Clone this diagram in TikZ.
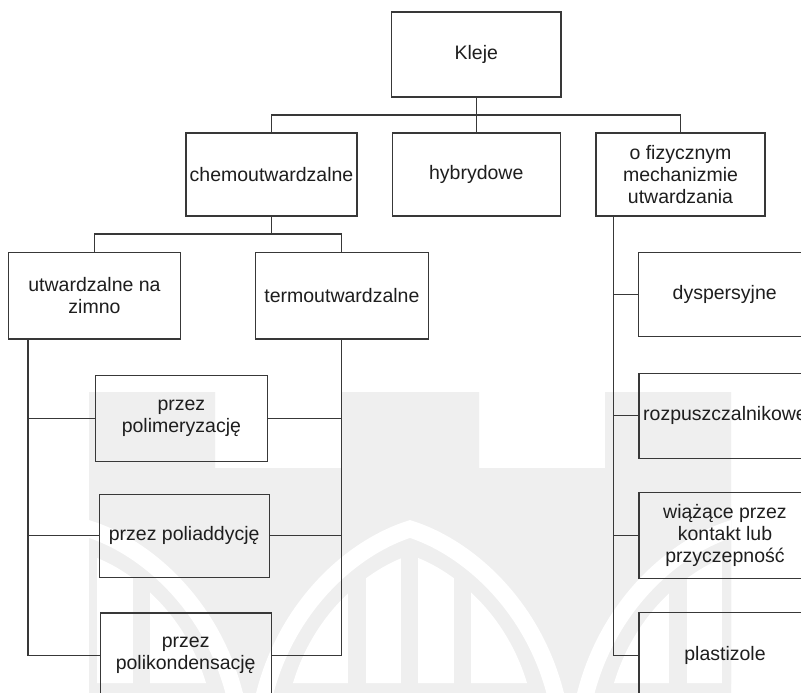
\documentclass[tikz,border=0pt]{standalone}
\usepackage{fontspec}
\setmainfont{Liberation Sans}
\definecolor{linecol}{HTML}{383838}
\definecolor{textcol}{HTML}{1E1E1E}
\definecolor{wm}{HTML}{EFEFEF}
\begin{document}
\begin{tikzpicture}[x=1pt,y=-1pt,
  box/.style={draw=linecol,line width=1.1pt,inner sep=0pt,align=center,
    text=textcol,font=\fontsize{19.5}{22}\selectfont},
  conn/.style={draw=linecol,line width=1.1pt}]
\useasboundingbox (0,0) rectangle (801,693);
\clip (0,0) rectangle (801,693);
\fill[white] (0,0) rectangle (801,693);
% faint watermark
\begin{scope}
\clip (89,392) rectangle (731,693);
\fill[wm] (89,693) -- (89,392) -- (215,392) -- (215,468) -- (342,468) -- (342,392)
  -- (479,392) -- (479,468) -- (605,468) -- (605,392) -- (731,392) -- (731,693) -- cycle;
\foreach \ax in {89,410,731}{
  \fill[white] ({\ax-117},683) .. controls ({\ax-95},610) and ({\ax-40},568) .. (\ax,555)
    .. controls ({\ax+40},568) and ({\ax+95},610) .. ({\ax+117},683) -- cycle;
  \fill[wm] ({\ax-62},540) rectangle ({\ax-44},684);
  \fill[wm] ({\ax-9},540) rectangle ({\ax+8},684);
  \fill[wm] ({\ax+44},540) rectangle ({\ax+61},684);
  \draw[white,line width=17pt,miter limit=10] ({\ax-148},705) .. controls ({\ax-128},610) and ({\ax-60},548) .. (\ax,529)
    .. controls ({\ax+60},548) and ({\ax+128},610) .. ({\ax+148},705);
}
\end{scope}
% level 1
\node[box,minimum width=169.5pt,minimum height=85pt] (kleje) at (476.25,54.5) {Kleje};
% level 2
\node[box,minimum width=171pt,minimum height=83pt] (chem) at (271.5,174.5) {chemoutwardzalne};
\node[box,minimum width=168pt,minimum height=83pt] (hyb) at (476.25,174.5) {hybrydowe};
\node[box,minimum width=169pt,minimum height=83pt] (fiz) at (680.5,174.5) {o fizycznym\\mechanizmie\\utwardzania};
% level 3 left
\node[box,minimum width=172.4pt,minimum height=86.7pt] (utw) at (94.5,295.6) {utwardzalne na\\zimno};
\node[box,minimum width=172.3pt,minimum height=86.7pt] (termo) at (341.9,295.6) {termoutwardzalne};
% level 4 left
\node[box,minimum width=171.3pt,minimum height=85.3pt] (pol) at (181.4,418.4) {przez\\polimeryzację};
\node[box,minimum width=169.7pt,minimum height=83.3pt] (add) at (184.2,535.7) {przez poliaddycję};
\node[box,minimum width=170.7pt,minimum height=85pt] (kond) at (185.7,655.5) {przez\\polikondensację};
% right column
\node[box,minimum width=172.7pt,minimum height=84pt] (dys) at (724.7,294.7) {dyspersyjne};
\node[box,minimum width=172pt,minimum height=85pt] (roz) at (725,415.8) {rozpuszczalnikowe};
\node[box,minimum width=172pt,minimum height=85.6pt] (wia) at (725,535.5) {wiążące przez\\kontakt lub\\przyczepność};
\node[box,minimum width=172pt,minimum height=85pt] (pla) at (725,655.2) {plastizole};
% connectors level 1 -> 2
\coordinate (bus1) at (476.25,115);
\draw[conn] (kleje.south) -- (hyb.north);
\draw[conn] (chem.north) |- (bus1) -| (fiz.north);
% chem -> utw, termo
\coordinate (bus2) at (271.5,234);
\draw[conn] (chem.south) -- (bus2);
\draw[conn] (utw.north) |- (bus2) -| (termo.north);
% left trunk
\coordinate (tl) at (28,339);
\draw[conn] (tl) |- (kond.west);
\draw[conn] (tl |- pol.west) -- (pol.west);
\draw[conn] (tl |- add.west) -- (add.west);
% right trunk (termo)
\draw[conn] (termo.south) |- (kond.east);
\draw[conn] (pol.east) -- (pol.east -| termo.south);
\draw[conn] (add.east) -- (add.east -| termo.south);
% fiz trunk
\coordinate (tr) at (613.7,215.5);
\draw[conn] (tr) |- (pla.west);
\draw[conn] (tr |- dys.west) -- (dys.west);
\draw[conn] (tr |- roz.west) -- (roz.west);
\draw[conn] (tr |- wia.west) -- (wia.west);
\end{tikzpicture}
\end{document}
